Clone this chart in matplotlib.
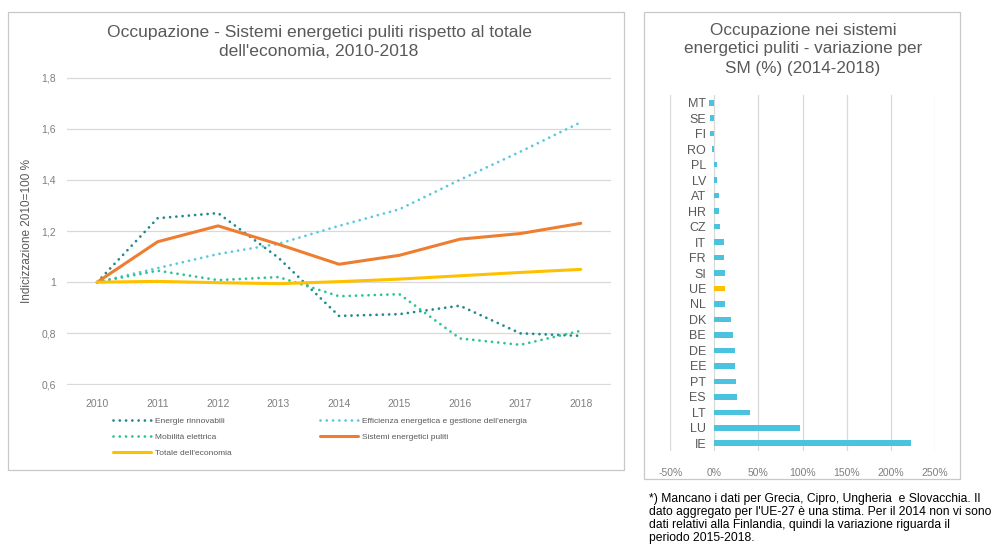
import matplotlib
matplotlib.use("Agg")
import matplotlib.pyplot as plt
from matplotlib.patches import Rectangle
from matplotlib.ticker import FuncFormatter

plt.rcParams["font.family"] = ["Liberation Sans", "DejaVu Sans"]

W, H = 997, 547

# --- left chart: index 2010 = 1
YEARS = ["2010", "2011", "2012", "2013", "2014", "2015", "2016", "2017", "2018"]
RINNOVABILI = [1.0, 1.25, 1.27, 1.095, 0.868, 0.875, 0.908, 0.80, 0.79]
EFFICIENZA  = [1.0, 1.055, 1.11, 1.15, 1.22, 1.285, 1.40, 1.51, 1.625]
MOBILITA    = [1.0, 1.045, 1.008, 1.02, 0.945, 0.953, 0.78, 0.755, 0.81]
SISTEMI     = [1.0, 1.158, 1.22, 1.148, 1.07, 1.105, 1.168, 1.19, 1.23]
TOTALE      = [1.0, 1.003, 0.998, 0.994, 1.002, 1.012, 1.025, 1.038, 1.05]

# --- right chart: change 2014-2018 per member state
COUNTRIES = ["MT", "SE", "FI", "RO", "PL", "LV", "AT", "HR", "CZ", "IT", "FR", "SI",
             "UE", "NL", "DK", "BE", "DE", "EE", "PT", "ES", "LT", "LU", "IE"]
VARIAZIONE = [-0.065, -0.045, -0.045, -0.026, 0.034, 0.03, 0.049, 0.053, 0.06,
              0.105, 0.113, 0.12, 0.117, 0.117, 0.184, 0.214, 0.233, 0.236,
              0.244, 0.252, 0.405, 0.968, 2.23]

C_RINN = "#23898B"
C_EFF  = "#5BC8E0"
C_MOB  = "#2EC48E"
C_SIST = "#ED7D31"
C_TOT  = "#FFC000"
C_BAR  = "#4BC3DE"
C_GRID = "#D9D9D9"
C_TXT  = "#595959"
C_TICK = "#7F7F7F"


def px_rect(x0, y0, x1, y1):
    return [x0 / W, 1 - y1 / H, (x1 - x0) / W, (y1 - y0) / H]


def frame(fig, x0, y0, x1, y1):
    r = px_rect(x0, y0, x1, y1)
    fig.patches.append(Rectangle((r[0], r[1]), r[2], r[3], transform=fig.transFigure,
                                 fill=False, ec="#C8C8C8", lw=0.9))


fig = plt.figure(figsize=(W / 100, H / 100), dpi=100)
frame(fig, 8, 12, 624, 470)
frame(fig, 644, 12, 960, 479)

# ---------------- left: lines
ax = fig.add_axes(px_rect(67, 77, 611, 385))
x = list(range(len(YEARS)))
dot = dict(lw=2.0, ls=(0, (0.01, 2.25)), dash_capstyle="round")
l_rinn, = ax.plot(x, RINNOVABILI, color=C_RINN, **dot)
l_eff,  = ax.plot(x, EFFICIENZA, color=C_EFF, **dot)
l_mob,  = ax.plot(x, MOBILITA, color=C_MOB, **dot)
l_sist, = ax.plot(x, SISTEMI, color=C_SIST, lw=2.2, solid_capstyle="round")
l_tot,  = ax.plot(x, TOTALE, color=C_TOT, lw=2.2, solid_capstyle="round")

ax.set_xlim(-0.5, len(YEARS) - 0.5)
ax.set_ylim(0.598, 1.802)
ax.set_xticks(x)
ax.set_xticklabels(YEARS)
ax.set_yticks([0.6, 0.8, 1.0, 1.2, 1.4, 1.6, 1.8])
ax.set_yticklabels(["0,6", "0,8", "1", "1,2", "1,4", "1,6", "1,8"])
ax.yaxis.grid(True, color=C_GRID, lw=0.9)
ax.set_axisbelow(True)
for s in ax.spines.values():
    s.set_visible(False)
ax.tick_params(length=0, labelsize=7.5, colors=C_TICK)
ax.tick_params(axis="x", pad=10)
ax.tick_params(axis="y", pad=8)
ax.set_ylabel("Indicizzazione 2010=100 %", fontsize=8.5, color=C_TXT)
ax.yaxis.set_label_coords(-0.062, 0.5)

fig.text(319 / W, 1 - 33 / H, "Occupazione - Sistemi energetici puliti rispetto al totale",
         ha="center", va="center", fontsize=12.6, color=C_TXT)
fig.text(319 / W, 1 - 52 / H, "dell'economia, 2010-2018",
         ha="center", va="center", fontsize=12.6, color=C_TXT)

leg_kw = dict(frameon=False, fontsize=6.0, handlelength=4.6, handletextpad=0.4,
              labelspacing=1.0, borderpad=0, borderaxespad=0, labelcolor=C_TXT)
fig.legend([l_rinn, l_mob, l_tot],
           ["Energie rinnovabili", "Mobilità elettrica", "Totale dell'economia"],
           loc="upper left", bbox_to_anchor=(113 / W, 1 - 417 / H), **leg_kw)
fig.legend([l_eff, l_sist],
           ["Efficienza energetica e gestione dell'energia", "Sistemi energetici puliti"],
           loc="upper left", bbox_to_anchor=(320 / W, 1 - 417 / H), **leg_kw)

# ---------------- right: bars
bx = fig.add_axes(px_rect(670, 95, 935, 451))
pos = list(range(len(COUNTRIES)))
colors = [C_TOT if c == "UE" else C_BAR for c in COUNTRIES]
bx.barh(pos, VARIAZIONE, height=0.36, color=colors)
bx.set_ylim(len(COUNTRIES) - 0.5, -0.5)
bx.set_xlim(-0.503, 2.503)
bx.set_yticks(pos)
bx.set_yticklabels(COUNTRIES)
bx.set_xticks([-0.5, 0, 0.5, 1.0, 1.5, 2.0, 2.5])
bx.xaxis.set_major_formatter(FuncFormatter(lambda v, p: f"{v * 100:.0f}%"))
bx.xaxis.grid(True, color=C_GRID, lw=0.9)
bx.set_axisbelow(True)
for s in bx.spines.values():
    s.set_visible(False)
bx.spines["left"].set_position(("data", 0))
bx.tick_params(length=0)
bx.tick_params(axis="y", labelsize=9, colors=C_TXT, pad=6)
bx.tick_params(axis="x", labelsize=7.5, colors=C_TICK, pad=12)

for i, line in enumerate(["Occupazione nei sistemi", "energetici puliti - variazione per",
                          "SM (%) (2014-2018)"]):
    fig.text(803 / W, 1 - (30 + 19 * i) / H, line, ha="center", va="center",
             fontsize=12.3, color=C_TXT)

fig.text(649 / W, 1 - 493 / H,
         "*) Mancano i dati per Grecia, Cipro, Ungheria  e Slovacchia. Il\n"
         "dato aggregato per l'UE-27 è una stima. Per il 2014 non vi sono\n"
         "dati relativi alla Finlandia, quindi la variazione riguarda il\n"
         "periodo 2015-2018.",
         ha="left", va="top", fontsize=8.7, color="black", linespacing=1.1)

fig.savefig("out.png", dpi=100)
